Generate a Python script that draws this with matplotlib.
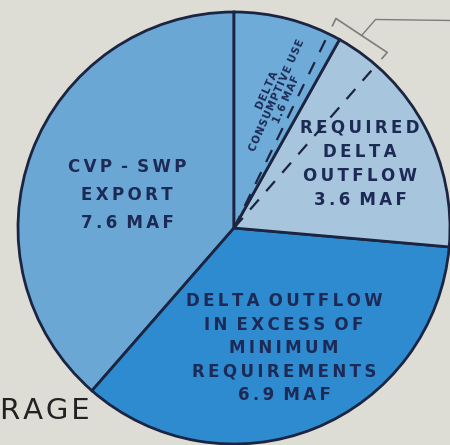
import numpy as np
import matplotlib
matplotlib.use("Agg")
import matplotlib.pyplot as plt

# Data (million acre-feet)
labels = ["CVP - SWP\nEXPORT\n7.6 MAF",
          "DELTA OUTFLOW\nIN EXCESS OF\nMINIMUM\nREQUIREMENTS\n6.9 MAF",
          "REQUIRED\nDELTA\nOUTFLOW\n3.6 MAF",
          "DELTA\nCONSUMPTIVE USE\n1.6 MAF"]
values = [7.6, 6.9, 3.6, 1.6]
colors = ["#6aa7d5", "#2f8bd0", "#a7c5dc", "#6fabd8"]
# portions on either side of the required outflow / consumptive use boundary
# marked by dashed lines and the bracket (MAF)
bracket_split = [0.65, 0.18]
title_fragment = "RAGE"

bg = "#dddcd5"
edge = "#1b2542"
txt = "#1c2a55"

W, H = 450, 445
fig = plt.figure(figsize=(4.5, 4.45), dpi=100, facecolor=bg)
ax = fig.add_axes([0, 0, 1, 1])
ax.set_facecolor(bg)

cx, cy, R = 234, 217, 216
start = 90
wedges, _ = ax.pie(values, colors=colors, startangle=start, counterclock=True,
                   center=(cx, cy), radius=R,
                   wedgeprops=dict(linewidth=2.0, edgecolor=edge))
ax.set_xlim(0, W)
ax.set_ylim(0, H)
ax.set_aspect("equal")
ax.axis("off")

total = sum(values)
cum = np.cumsum([0] + values)
ang = [start + 360 * c / total for c in cum]  # boundaries

# dashed lines
b_ang = ang[3]
d1 = b_ang - 360 * bracket_split[0] / total
d2 = b_ang + 360 * bracket_split[1] / total
for a in (d1, d2):
    t = np.radians(a)
    ax.plot([cx, cx + R * np.cos(t)], [cy, cy + R * np.sin(t)],
            color=edge, lw=1.6, ls=(0, (6, 5)), zorder=5)

# bracket outside the circle
rb, rt = R + 17, R + 9
p = lambda a, r: (cx + r * np.cos(np.radians(a)), cy + r * np.sin(np.radians(a)))
P1o, P2o = p(d2, rb), p(d1, rb)
P1i, P2i = p(d2, rt), p(d1, rt)
gray = "#7d7d78"
ax.plot([P1i[0], P1o[0], P2o[0], P2i[0]], [P1i[1], P1o[1], P2o[1], P2i[1]],
        color=gray, lw=1.2, zorder=6)
mid = ((P1o[0] + P2o[0]) / 2, (P1o[1] + P2o[1]) / 2)
knee = (mid[0] + 14, mid[1] + 16)
ax.plot([mid[0], knee[0], W], [mid[1], knee[1], knee[1] - 1],
        color=gray, lw=1.0, zorder=6)


def spaced(s, sp="\u2009"):
    out = []
    for line in s.split("\n"):
        words = [sp.join(list(w)) for w in line.split(" ")]
        out.append((sp + " ").join(words))
    return "\n".join(out)


fkw = dict(family="DejaVu Sans", color=txt, ha="center", va="center",
           fontweight="bold")
ax.text(127, H - 195, spaced(labels[0]), fontsize=12, linespacing=1.75, **fkw)
ax.text(284, H - 348, spaced(labels[1]), fontsize=12, linespacing=1.38, **fkw)
ax.text(360, H - 164, spaced(labels[2]), fontsize=12, linespacing=1.45, **fkw)
ax.text(277, H - 95, spaced(labels[3], "\u200a"), fontsize=7.3, rotation=66,
        rotation_mode="anchor", linespacing=1.05, **fkw)

ax.text(0.5, H - 411, spaced(title_fragment, "\u200a"), fontsize=21,
        color="#222222", ha="left", va="center", family="DejaVu Sans")

fig.savefig("out.png", dpi=100, facecolor=bg)
